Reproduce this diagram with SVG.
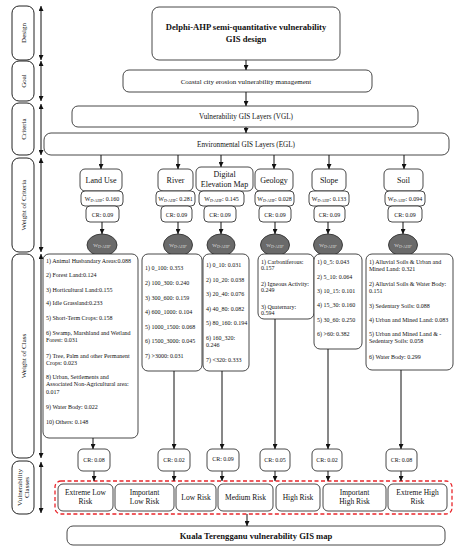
<svg xmlns="http://www.w3.org/2000/svg" width="456" height="550" viewBox="0 0 456 550">
<defs>
<marker id="ah" markerWidth="5" markerHeight="5" refX="5" refY="2.5" orient="auto-start-reverse" markerUnits="userSpaceOnUse">
<path d="M0,0 L5,2.5 L0,5 z" fill="#111"/>
</marker>
<style>
.box{fill:#fff;stroke:#333;stroke-width:0.9}
.side{fill:#fff;stroke:#222;stroke-width:1}
.ell{fill:#6a6a6a;stroke:#333;stroke-width:0.9}
.conn line{stroke:#111;stroke-width:1;marker-end:url(#ah)}
.dbl line{stroke:#111;stroke-width:1;marker-start:url(#ah);marker-end:url(#ah)}
text{font-family:"Liberation Serif","Times New Roman",serif;fill:#111}
.c{text-anchor:middle}
.s6{font-size:6px}
.s7{font-size:7px}
.s75{font-size:7.5px}
.s8{font-size:8px}
.b{font-weight:bold}
.sub{font-size:4px}
.lt{fill:#ddd}
</style>
</defs>
<rect width="456" height="550" fill="#fff"/>

<!-- side labels -->
<g id="side-design"><rect class="side" x="12" y="6" width="22" height="54" rx="7"/><text class="c s7" transform="translate(25.5,33) rotate(-90)">Design</text></g>
<g id="side-goal"><rect class="side" x="12" y="61" width="22" height="40" rx="7"/><text class="c s7" transform="translate(25.5,81) rotate(-90)">Goal</text></g>
<g id="side-criteria"><rect class="side" x="12" y="103" width="22" height="52" rx="7"/><text class="c s7" transform="translate(25.5,129) rotate(-90)">Criteria</text></g>
<g id="side-wcrit"><rect class="side" x="12" y="158" width="22" height="94" rx="7"/><text class="c s7" transform="translate(25.5,205) rotate(-90)">Weight of Criteria</text></g>
<g id="side-wclass"><rect class="side" x="12" y="254" width="22" height="204" rx="7"/><text class="c s7" transform="translate(25.5,356) rotate(-90)">Weight of Class</text></g>
<g id="side-vclass"><rect class="side" x="12" y="461" width="22" height="53" rx="7"/><text class="c s7" transform="translate(21.5,487.5) rotate(-90)">Vulnerability</text><text class="c s7" transform="translate(29,487.5) rotate(-90)">Classes</text></g>

<g class="dbl">
<line x1="41" y1="6" x2="41" y2="60"/>
<line x1="41" y1="61" x2="41" y2="101"/>
<line x1="41" y1="104" x2="41" y2="155"/>
<line x1="41" y1="158" x2="41" y2="252"/>
<line x1="41" y1="254" x2="41" y2="458"/>
<line x1="41" y1="462" x2="41" y2="513"/>
</g>

<!-- top hierarchy -->
<g id="title"><rect class="box" x="152" y="7" width="188" height="53" rx="7"/><text class="c s8 b" x="246" y="30" style="font-size:8.6px">Delphi-AHP semi-quantitative vulnerability</text><text class="c b" x="246" y="42" style="font-size:8.6px">GIS design</text></g>
<g id="goal"><rect class="box" x="123" y="70" width="249" height="22" rx="6"/><text class="c s7" x="246" y="84">Coastal city erosion vulnerability management</text></g>
<g id="vgl"><rect class="box" x="72" y="106" width="346" height="21" rx="6"/><text class="c" x="246" y="119" style="font-size:7.2px">Vulnerability GIS Layers (VGL)</text></g>
<g id="egl"><rect class="box" x="44" y="133" width="405" height="22" rx="7"/><text class="c" x="246" y="147" style="font-size:7.2px">Environmental GIS Layers (EGL)</text></g>

<!-- criteria -->
<g id="landuse">
<rect class="box" x="80" y="169" width="42" height="22" rx="5"/><text class="c s8" x="101" y="183">Land Use</text>
<rect class="box" x="81" y="191" width="42" height="15" rx="4"/><text class="c s6" x="102" y="201">W<tspan class="sub" dy="1.3">D-AHP</tspan><tspan dy="-1.3">: 0.160</tspan></text>
<rect class="box" x="86" y="206" width="33" height="16" rx="4"/><text class="c s6" x="102.5" y="216.5">CR: 0.09</text>
<ellipse class="ell" cx="102" cy="245" rx="15" ry="11"/><text class="c lt" x="102" y="247" style="font-size:5px">W<tspan class="sub" dy="1">D-AHP'</tspan></text>
</g>
<g id="river">
<rect class="box" x="158" y="169" width="35" height="22" rx="5"/><text class="c s8" x="175.5" y="183">River</text>
<rect class="box" x="156" y="191" width="39" height="15" rx="4"/><text class="c s6" x="175.5" y="201">W<tspan class="sub" dy="1.3">D-AHP</tspan><tspan dy="-1.3">: 0.281</tspan></text>
<rect class="box" x="161" y="206" width="31" height="16" rx="4"/><text class="c s6" x="176.5" y="216.5">CR: 0.09</text>
<ellipse class="ell" cx="178" cy="245" rx="14.5" ry="11"/><text class="c lt" x="178" y="247" style="font-size:5px">W<tspan class="sub" dy="1">D-AHP'</tspan></text>
</g>
<g id="dem">
<rect class="box" x="196" y="167" width="57" height="24" rx="5"/><text class="c s8" x="224.5" y="177">Digital</text><text class="c s8" x="224.5" y="187">Elevation Map</text>
<rect class="box" x="199" y="191" width="45" height="15" rx="4"/><text class="c s6" x="221.5" y="201">W<tspan class="sub" dy="1.3">D-AHP</tspan><tspan dy="-1.3">: 0.145</tspan></text>
<rect class="box" x="204" y="206" width="32" height="16" rx="4"/><text class="c s6" x="220" y="216.5">CR: 0.09</text>
<ellipse class="ell" cx="221" cy="245" rx="14" ry="11"/><text class="c lt" x="221" y="247" style="font-size:5px">W<tspan class="sub" dy="1">D-AHP'</tspan></text>
</g>
<g id="geology">
<rect class="box" x="255" y="169" width="38" height="22" rx="5"/><text class="c s8" x="274" y="183">Geology</text>
<rect class="box" x="255" y="191" width="39" height="15" rx="4"/><text class="c s6" x="274.5" y="201">W<tspan class="sub" dy="1.3">D-AHP</tspan><tspan dy="-1.3">: 0.028</tspan></text>
<rect class="box" x="259" y="206" width="32" height="16" rx="4"/><text class="c s6" x="275" y="216.5">CR: 0.09</text>
<ellipse class="ell" cx="275" cy="245" rx="14.5" ry="11"/><text class="c lt" x="275" y="247" style="font-size:5px">W<tspan class="sub" dy="1">D-AHP'</tspan></text>
</g>
<g id="slope">
<rect class="box" x="312" y="169" width="34" height="22" rx="5"/><text class="c s8" x="329" y="183">Slope</text>
<rect class="box" x="309" y="191" width="40" height="15" rx="4"/><text class="c s6" x="329" y="201">W<tspan class="sub" dy="1.3">D-AHP</tspan><tspan dy="-1.3">: 0.133</tspan></text>
<rect class="box" x="314" y="206" width="31" height="16" rx="4"/><text class="c s6" x="329.5" y="216.5">CR: 0.09</text>
<ellipse class="ell" cx="328" cy="245" rx="14.5" ry="11"/><text class="c lt" x="328" y="247" style="font-size:5px">W<tspan class="sub" dy="1">D-AHP'</tspan></text>
</g>
<g id="soil">
<rect class="box" x="384" y="169" width="39" height="22" rx="5"/><text class="c s8" x="403.5" y="183">Soil</text>
<rect class="box" x="385" y="191" width="40" height="15" rx="4"/><text class="c s6" x="405" y="201">W<tspan class="sub" dy="1.3">D-AHP</tspan><tspan dy="-1.3">: 0.094</tspan></text>
<rect class="box" x="388" y="206" width="34" height="16" rx="4"/><text class="c s6" x="405" y="216.5">CR: 0.09</text>
<ellipse class="ell" cx="403" cy="245" rx="14.5" ry="11"/><text class="c lt" x="403" y="247" style="font-size:5px">W<tspan class="sub" dy="1">D-AHP'</tspan></text>
</g>

<!-- class boxes -->
<g id="cls-landuse" class="s6">
<rect class="box" x="43" y="254" width="95" height="184" rx="6"/>
<text x="46" y="263">1) Animal Husbandary Areas:0.088</text>
<text x="46" y="277">2) Forest Land:0.124</text>
<text x="46" y="292">3) Horticultural Land:0.155</text>
<text x="46" y="305">4) Idle Grassland:0.233</text>
<text x="46" y="320">5) Short-Term Crops: 0.158</text>
<text x="46" y="335">6) Swamp, Marshland and Wetland</text>
<text x="46" y="342">Forest: 0.031</text>
<text x="46" y="358">7) Tree, Palm and other Permanent</text>
<text x="46" y="365">Crops: 0.023</text>
<text x="46" y="379">8) Urban, Settlements and</text>
<text x="46" y="386">Associated Non-Agricultural area:</text>
<text x="46" y="394">0.017</text>
<text x="46" y="409">9) Water Body: 0.022</text>
<text x="46" y="424">10) Others: 0.148</text>
</g>
<g id="cls-river" class="s6">
<rect class="box" x="142" y="254" width="60" height="117" rx="6"/>
<text x="145" y="270">1) 0_100: 0.353</text>
<text x="145" y="285">2) 100_300: 0.240</text>
<text x="145" y="300">3) 300_600: 0.159</text>
<text x="145" y="314">4) 600_1000: 0.104</text>
<text x="145" y="329">5) 1000_1500: 0.068</text>
<text x="145" y="343">6) 1500_3000: 0.045</text>
<text x="145" y="358">7) &gt;3000: 0.031</text>
</g>
<g id="cls-dem" class="s6">
<rect class="box" x="203" y="254" width="46" height="117" rx="6"/>
<text x="206" y="267">1) 0_10: 0.031</text>
<text x="206" y="282">2) 10_20: 0.038</text>
<text x="206" y="296">3) 20_40: 0.076</text>
<text x="206" y="311">4) 40_80: 0.082</text>
<text x="206" y="325">5) 80_160: 0.194</text>
<text x="206" y="340">6) 160_320:</text>
<text x="206" y="347">0.246</text>
<text x="206" y="362">7) &lt;320: 0.333</text>
</g>
<g id="cls-geology" class="s6">
<rect class="box" x="258" y="254" width="56" height="65" rx="6"/>
<text x="261" y="264">1) Carboniferous:</text>
<text x="261" y="270">0.157</text>
<text x="261" y="286">2) Igneous Activity:</text>
<text x="261" y="292">0.249</text>
<text x="261" y="309">3) Quaternary:</text>
<text x="261" y="315">0.594</text>
</g>
<g id="cls-slope" class="s6">
<rect class="box" x="314" y="254" width="48" height="95" rx="6"/>
<text x="317" y="264">1) 0_5: 0.043</text>
<text x="317" y="279">2) 5_10: 0.064</text>
<text x="317" y="293">3) 10_15: 0.101</text>
<text x="317" y="307">4) 15_30: 0.160</text>
<text x="317" y="322">5) 30_60: 0.250</text>
<text x="317" y="336">6) &gt;60: 0.382</text>
</g>
<g id="cls-soil" class="s6">
<rect class="box" x="366" y="254" width="87" height="116" rx="6"/>
<text x="369" y="264">1) Alluvial Soils &amp; Urban and</text>
<text x="369" y="271">Mined Land: 0.321</text>
<text x="369" y="286">2) Alluvial Soils &amp; Water Body:</text>
<text x="369" y="293">0.151</text>
<text x="369" y="308">3) Sedentary Soils: 0.088</text>
<text x="369" y="322">4) Urban and Mined Land: 0.083</text>
<text x="369" y="336">5) Urban and Mined Land &amp; -</text>
<text x="369" y="343">Sedentary Soils: 0.058</text>
<text x="369" y="359">6) Water Body: 0.299</text>
</g>

<!-- bottom CR boxes -->
<g id="cr1"><rect class="box" x="78" y="449" width="32" height="22" rx="5"/><text class="c s6" x="94" y="462">CR: 0.08</text></g>
<g id="cr2"><rect class="box" x="158" y="449" width="32" height="22" rx="5"/><text class="c s6" x="174" y="462">CR: 0.02</text></g>
<g id="cr3"><rect class="box" x="207" y="449" width="32" height="22" rx="5"/><text class="c s6" x="223" y="461">CR: 0.09</text></g>
<g id="cr4"><rect class="box" x="260" y="449" width="30" height="22" rx="5"/><text class="c s6" x="275" y="462">CR: 0.05</text></g>
<g id="cr5"><rect class="box" x="312" y="449" width="30" height="22" rx="5"/><text class="c s6" x="327" y="462">CR: 0.02</text></g>
<g id="cr6"><rect class="box" x="386" y="449" width="31" height="22" rx="5"/><text class="c s6" x="401.5" y="462">CR: 0.08</text></g>

<!-- vulnerability classes -->
<g id="classes-frame"><rect x="55" y="481" width="397" height="33" rx="6" fill="none" stroke="#e8262b" stroke-width="1.3" stroke-dasharray="4,2.5"/></g>
<g id="c-extreme-low"><rect class="box" x="58" y="484" width="55" height="27" rx="5"/><text class="c s75" x="85.5" y="495">Extreme Low</text><text class="c s75" x="85.5" y="504">Risk</text></g>
<g id="c-imp-low"><rect class="box" x="115" y="484" width="59" height="27" rx="5"/><text class="c s75" x="144.5" y="495">Important</text><text class="c s75" x="144.5" y="504">Low Risk</text></g>
<g id="c-low"><rect class="box" x="176" y="484" width="40" height="27" rx="5"/><text class="c s75" x="196" y="500">Low Risk</text></g>
<g id="c-medium"><rect class="box" x="218" y="484" width="55" height="27" rx="5"/><text class="c s75" x="245.5" y="500">Medium Risk</text></g>
<g id="c-high"><rect class="box" x="276" y="484" width="44" height="27" rx="5"/><text class="c s75" x="298" y="500">High Risk</text></g>
<g id="c-imp-high"><rect class="box" x="323" y="484" width="63" height="27" rx="5"/><text class="c s75" x="354.5" y="495">Important</text><text class="c s75" x="354.5" y="504">High Risk</text></g>
<g id="c-extreme-high"><rect class="box" x="388" y="484" width="59" height="27" rx="5"/><text class="c s75" x="417.5" y="495">Extreme High</text><text class="c s75" x="417.5" y="504">Risk</text></g>

<g id="final"><rect class="box" x="67" y="526" width="378" height="19" rx="6"/><text class="c b" x="256" y="539" style="font-size:8.6px">Kuala Terengganu vulnerability GIS map</text></g>

<!-- connectors -->
<g class="conn">
<line x1="246" y1="60" x2="246" y2="70"/>
<line x1="246" y1="92" x2="246" y2="106"/>
<line x1="246" y1="127" x2="246" y2="133"/>
<line x1="101" y1="155" x2="101" y2="169"/>
<line x1="178" y1="155" x2="178" y2="169"/>
<line x1="221" y1="155" x2="221" y2="167"/>
<line x1="274" y1="155" x2="274" y2="169"/>
<line x1="329" y1="155" x2="329" y2="169"/>
<line x1="404" y1="155" x2="404" y2="169"/>
<line x1="102" y1="222" x2="102" y2="234"/>
<line x1="178" y1="222" x2="178" y2="234"/>
<line x1="221" y1="222" x2="221" y2="234"/>
<line x1="275" y1="222" x2="275" y2="234"/>
<line x1="328" y1="222" x2="328" y2="234"/>
<line x1="403" y1="222" x2="403" y2="234"/>
<line x1="93" y1="438" x2="93" y2="449"/>
<line x1="174" y1="371" x2="174" y2="449"/>
<line x1="222" y1="371" x2="222" y2="449"/>
<line x1="275" y1="319" x2="275" y2="449"/>
<line x1="328" y1="349" x2="328" y2="449"/>
<line x1="401" y1="370" x2="401" y2="449"/>
<line x1="94" y1="471" x2="94" y2="481"/>
<line x1="174" y1="471" x2="174" y2="481"/>
<line x1="222" y1="471" x2="222" y2="481"/>
<line x1="275" y1="471" x2="275" y2="481"/>
<line x1="328" y1="471" x2="328" y2="481"/>
<line x1="401" y1="471" x2="401" y2="481"/>
<line x1="247" y1="514" x2="247" y2="526"/>
</g>
</svg>
